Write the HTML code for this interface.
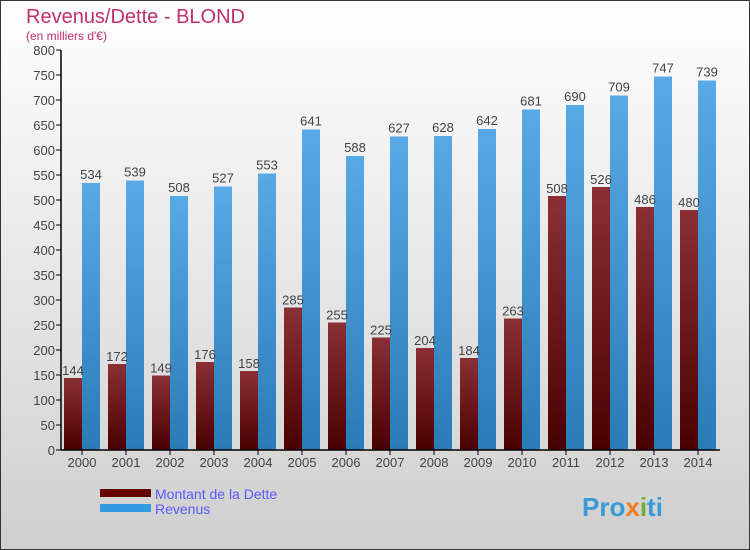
<!DOCTYPE html>
<html><head><meta charset="utf-8"><style>
body{margin:0}
#c{width:750px;height:550px;position:relative;overflow:hidden}
text{font-family:"Liberation Sans",sans-serif}
</style></head><body>
<div id="c">
<svg id="s" width="750" height="550" xmlns="http://www.w3.org/2000/svg">
<defs>
<linearGradient id="bg" x1="0" y1="0" x2="0" y2="1"><stop offset="0" stop-color="#ffffff"/><stop offset="1" stop-color="#cfcfcf"/></linearGradient>
<linearGradient id="gd" x1="0" y1="0" x2="0" y2="1"><stop offset="0" stop-color="#8a3035"/><stop offset="1" stop-color="#4a0000"/></linearGradient>
<linearGradient id="gr" x1="0" y1="0" x2="0" y2="1"><stop offset="0" stop-color="#58aae6"/><stop offset="1" stop-color="#2a7ab8"/></linearGradient>
</defs>
<rect x="0.5" y="0.5" width="749" height="549" fill="url(#bg)" stroke="#333"/>
<text x="26" y="23" font-size="20" fill="#c0306a">Revenus/Dette - BLOND</text>
<text x="26" y="40" font-size="12" fill="#c0306a">(en milliers d'€)</text>
<g id="plot"></g>
<g>
<rect x="100" y="489" width="51" height="8" fill="#660000"/>
<text x="155" y="499" font-size="14" fill="#5a5aff">Montant de la Dette</text>
<rect x="100" y="504" width="51" height="8" fill="#3399e0"/>
<text x="155" y="514" font-size="14" fill="#5a5aff">Revenus</text>
</g>
<text x="582" y="516" font-size="26" font-weight="bold" fill="#3a9ad8">Pro<tspan fill="#f08020">x</tspan><tspan fill="#70b030">i</tspan>ti</text>
</svg>
</div>
<script>
const years=["2000","2001","2002","2003","2004","2005","2006","2007","2008","2009","2010","2011","2012","2013","2014"];
const dette=[144,172,149,176,158,285,255,225,204,184,263,508,526,486,480];
const revenus=[534,539,508,527,553,641,588,627,628,642,681,690,709,747,739];
const yTicks=[0,50,100,150,200,250,300,350,400,450,500,550,600,650,700,750,800];
const NS="http://www.w3.org/2000/svg";
const g=document.getElementById('plot');
const y=v=>450-v*0.5;
const xc=i=>82+44*i;
function mk(t,a){const e=document.createElementNS(NS,t);for(const k in a)e.setAttribute(k,a[k]);g.appendChild(e);return e;}
yTicks.forEach(v=>{
 const l=mk('line',{x1:56,x2:61,y1:y(v),y2:y(v),stroke:'#000'});
 
 
 const t=mk('text',{x:55,y:y(v)+5,'font-size':13,'text-anchor':'end',fill:'#444'});
 t.textContent=v;
 
 
});
years.forEach((yr,i)=>{
 const c=xc(i);
 const b1=mk('rect',{x:c-18,y:y(dette[i]),width:18,height:dette[i]*0.5,fill:'url(#gd)'});
 
 
 const b2=mk('rect',{x:c,y:y(revenus[i]),width:18,height:revenus[i]*0.5,fill:'url(#gr)'});
 
 
 const t1=mk('text',{x:c-9,y:y(dette[i])-3,'font-size':13,'text-anchor':'middle',fill:'#444'});
 t1.textContent=dette[i];
 
 
 const t2=mk('text',{x:c+9,y:y(revenus[i])-4,'font-size':13,'text-anchor':'middle',fill:'#444'});
 t2.textContent=revenus[i];
 
 
 const tk=mk('line',{x1:c,x2:c,y1:450,y2:455,stroke:'#000'});
 
 
 const xl=mk('text',{x:c,y:467,'font-size':13,'text-anchor':'middle',fill:'#444'});
 xl.textContent=yr;
 
 
});
const ya=mk('line',{x1:61,x2:61,y1:50,y2:450,stroke:'#000','stroke-width':1.5});


const xa=mk('line',{x1:61,x2:720,y1:450,y2:450,stroke:'#000','stroke-width':1.5});


</script>
</body></html>
